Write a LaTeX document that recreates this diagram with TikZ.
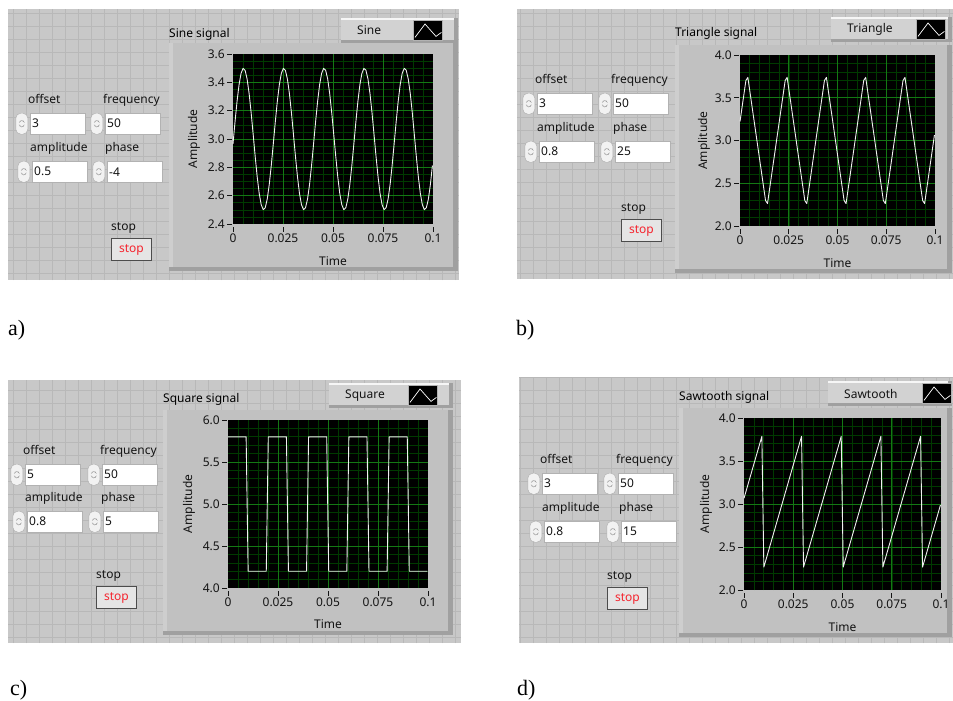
\documentclass[tikz,border=0pt]{standalone}
\usepackage{fontspec}
\setmainfont{Noto Sans}
\newfontfamily\capfont{Liberation Serif}
\usetikzlibrary{positioning, calc}
\definecolor{panelgray}{RGB}{200,200,200}
\definecolor{panelline}{RGB}{184,184,184}
\definecolor{framegray}{RGB}{193,193,193}
\definecolor{framelight}{RGB}{206,206,206}
\definecolor{frameedge}{RGB}{160,160,160}
\definecolor{ringgray}{RGB}{210,210,210}
\definecolor{majorgrid}{RGB}{20,120,20}
\definecolor{minorgrid}{RGB}{0,58,0}
\definecolor{lvtext}{RGB}{20,20,20}
\definecolor{stopred}{RGB}{245,35,45}

\begin{document}
\begin{tikzpicture}[
    x=1pt, y=-1pt,
    declare function={
        tri(\p)=(\p<90)?(\p/90):((\p<270)?((180-\p)/90):((\p-360)/90));
        sqw(\p)=(\p<180)?1:-1;
        saw(\p)=(\p<180)?(\p/180):(\p/180-2);
    },
    lvfont/.style={font=\fontsize{12}{14}\selectfont, text=lvtext},
    field/.style={lvfont, draw=gray!60, fill=white, anchor=north west, minimum height=21pt, text width=51pt, inner xsep=2pt, inner ysep=0pt, align=left},
    spin/.style={draw=gray!65, fill=gray!10, rounded corners=5pt, minimum width=12pt, minimum height=21pt, inner sep=0pt,
        path picture={
            \draw[gray!75, line width=0.4pt] ([xshift=-1.5pt,yshift=3pt]path picture bounding box.center) -- ([yshift=6pt]path picture bounding box.center) -- ([xshift=1.5pt,yshift=3pt]path picture bounding box.center);
            \draw[gray!75, line width=0.4pt] ([xshift=-1.5pt,yshift=-3pt]path picture bounding box.center) -- ([yshift=-6pt]path picture bounding box.center) -- ([xshift=1.5pt,yshift=-3pt]path picture bounding box.center);
        }},
    ctllab/.style={lvfont, anchor=base west, inner sep=0pt},
    stopbtn/.style={lvfont, text=stopred, draw=black!70, line width=1pt, fill=gray!20, anchor=north west, minimum width=40pt, minimum height=22pt, inner sep=0pt},
    icon/.style={fill=black, draw=gray!60, anchor=north west, minimum width=29pt, minimum height=20pt, inner sep=0pt},
    mingrid/.style={draw=minorgrid, line width=0.6pt},
    majgrid/.style={draw=majorgrid, line width=0.7pt},
    wave/.style={draw=white!88!gray, line width=0.9pt, line join=round},
    tick/.style={draw=lvtext, line width=0.8pt},
    ticklab/.style={lvfont, inner sep=1pt},
    axlab/.style={lvfont, inner sep=0pt},
    caption/.style={font=\capfont\fontsize{22}{24}\selectfont, anchor=west, inner sep=0pt}
]
    \fill[white] (0,0) rectangle (953,701);
    \useasboundingbox (0,0) rectangle (953,701);

    % panel backgrounds
    \foreach \pn/\xa/\ya/\xb/\yb in {a/8/9/459/280, b/517/9/953/279, c/8/380/461/643, d/519/377/953/643} {
        \fill[panelgray] (\xa,\ya) rectangle (\xb,\yb);
        \draw[panelline, step=13pt] (\xa,\ya) grid (\xb,\yb);
    }

    % graph frames and titles
    \foreach \pn/\xa/\ya/\xb/\yb/\ty/\sig in {a/169/43/458/271/34/Sine, b/675/45/952/273/33/Triangle, c/163/410/453/635/399/Square, d/679/408/952/637/397/Sawtooth} {
        \fill[framegray] (\xa,\ya) rectangle (\xb,\yb);
        \fill[framelight] (\xa,\ya) rectangle (\xa+4,\yb);
        \fill[frameedge] (\xb-5,\ya) rectangle (\xb,\yb);
        \fill[frameedge] (\xa,\yb-4) rectangle (\xb,\yb);
        \node[lvfont, text=black, anchor=west, inner sep=0pt] (\pn-title) at (\xa,\ty) {\sig{} signal};
    }

    % waveform selectors
    \foreach \pn/\xa/\ya/\xb/\yb/\ix/\sig in {a/341/18/458/43/413/Sine, b/831/17/952/42/916/Triangle, c/329/383/453/408/408/Square, d/828/381/952/406/922/Sawtooth} {
        \fill[ringgray] (\xa,\ya) rectangle (\xb,\yb);
        \fill[white!80!ringgray] (\xa,\ya) rectangle (\xb,\ya+2);
        \fill[frameedge] (\xb-4,\ya) rectangle (\xb,\yb);
        \fill[frameedge] (\xa,\yb-3) rectangle (\xb,\yb);
        \node[lvfont, anchor=west, inner sep=0pt] (\pn-ring) at (\xa+16,{(\ya+\yb)/2}) {\sig};
        \node[icon] (\pn-icon) at (\ix,\ya+2) {};
        \draw[white, line width=0.7pt] ($(\pn-icon.south west)+(2pt,3pt)$) -- ($(\pn-icon.north west)+(12pt,-4pt)$)
            -- ($(\pn-icon.south west)+(23pt,4pt)$) -- ($(\pn-icon.south east)+(-1pt,8pt)$);
    }

    % a) sine
    \begin{scope}[shift={(233,224)}, x=2000pt, y=141.667pt]
        \fill[black] (0,0) rectangle (0.1,1.2);
        \foreach \i in {1,...,19} \draw[mingrid] (\i*0.005,0) -- (\i*0.005,1.2);
        \foreach \j in {1,...,23} \draw[mingrid] (0,\j*0.05) -- (0.1,\j*0.05);
        \foreach \i in {1,2,3} \draw[majgrid] (\i*0.025,0) -- (\i*0.025,1.2);
        \foreach \j in {1,...,5} \draw[majgrid] (0,\j*0.2) -- (0.1,\j*0.2);
        \draw[wave] plot[samples at={0,...,99}, variable=\n] ({\n*0.001}, {0.6+0.5*sin(18*\n-4)});
        \foreach \j/\lab in {0/2.4, 1/2.6, 2/2.8, 3/3.0, 4/3.2, 5/3.4, 6/3.6} {
            \draw[tick] (0,\j*0.2) ++(-1pt,0pt) -- ++(-5pt,0pt);
            \node[ticklab, left=7pt] at (0,\j*0.2) {\lab};
        }
        \foreach \t in {0,0.025,0.05,0.075,0.1} {
            \draw[tick] (\t,0) ++(0pt,-3pt) -- ++(0pt,-5pt);
            \node[ticklab, below=9pt] at (\t,0) {\t};
        }
        \node[axlab, rotate=90] (a-amp) at ($(0,0.6)+(-39pt,0pt)$) {Amplitude};
        \node[axlab] (a-time) at ($(0.05,0)+(0pt,-37pt)$) {Time};
    \end{scope}

    % b) triangle
    \begin{scope}[shift={(740,226)}, x=1950pt, y=85.5pt]
        \fill[black] (0,0) rectangle (0.1,2);
        \foreach \i in {1,...,19} \draw[mingrid] (\i*0.005,0) -- (\i*0.005,2);
        \foreach \j in {1,...,19} \draw[mingrid] (0,\j*0.1) -- (0.1,\j*0.1);
        \foreach \i in {1,2,3} \draw[majgrid] (\i*0.025,0) -- (\i*0.025,2);
        \foreach \j in {1,2,3} \draw[majgrid] (0,\j*0.5) -- (0.1,\j*0.5);
        \draw[wave] plot[samples at={0,...,99}, variable=\n] ({\n*0.001}, {1+0.8*tri(mod(25+18*\n,360))});
        \foreach \j/\lab in {0/2.0, 1/2.5, 2/3.0, 3/3.5, 4/4.0} {
            \draw[tick] (0,\j*0.5) ++(-1pt,0pt) -- ++(-5pt,0pt);
            \node[ticklab, left=7pt] at (0,\j*0.5) {\lab};
        }
        \foreach \t in {0,0.025,0.05,0.075,0.1} {
            \draw[tick] (\t,0) ++(0pt,-3pt) -- ++(0pt,-5pt);
            \node[ticklab, below=9pt] at (\t,0) {\t};
        }
        \node[axlab, rotate=90] (b-amp) at ($(0,1)+(-36pt,0pt)$) {Amplitude};
        \node[axlab] (b-time) at ($(0.05,0)+(0pt,-37pt)$) {Time};
    \end{scope}

    % c) square
    \begin{scope}[shift={(228,588)}, x=2000pt, y=84pt]
        \fill[black] (0,0) rectangle (0.1,2);
        \foreach \i in {1,...,19} \draw[mingrid] (\i*0.005,0) -- (\i*0.005,2);
        \foreach \j in {1,...,19} \draw[mingrid] (0,\j*0.1) -- (0.1,\j*0.1);
        \foreach \i in {1,2,3} \draw[majgrid] (\i*0.025,0) -- (\i*0.025,2);
        \foreach \j in {1,2,3} \draw[majgrid] (0,\j*0.5) -- (0.1,\j*0.5);
        \draw[wave] plot[samples at={0,...,99}, variable=\n] ({\n*0.001}, {1+0.8*sqw(mod(5+18*\n,360))});
        \foreach \j/\lab in {0/4.0, 1/4.5, 2/5.0, 3/5.5, 4/6.0} {
            \draw[tick] (0,\j*0.5) ++(-1pt,0pt) -- ++(-5pt,0pt);
            \node[ticklab, left=7pt] at (0,\j*0.5) {\lab};
        }
        \foreach \t in {0,0.025,0.05,0.075,0.1} {
            \draw[tick] (\t,0) ++(0pt,-3pt) -- ++(0pt,-5pt);
            \node[ticklab, below=9pt] at (\t,0) {\t};
        }
        \node[axlab, rotate=90] (c-amp) at ($(0,1)+(-39pt,0pt)$) {Amplitude};
        \node[axlab] (c-time) at ($(0.05,0)+(0pt,-36pt)$) {Time};
    \end{scope}

    % d) sawtooth
    \begin{scope}[shift={(744,590)}, x=1970pt, y=86pt]
        \fill[black] (0,0) rectangle (0.1,2);
        \foreach \i in {1,...,19} \draw[mingrid] (\i*0.005,0) -- (\i*0.005,2);
        \foreach \j in {1,...,19} \draw[mingrid] (0,\j*0.1) -- (0.1,\j*0.1);
        \foreach \i in {1,2,3} \draw[majgrid] (\i*0.025,0) -- (\i*0.025,2);
        \foreach \j in {1,2,3} \draw[majgrid] (0,\j*0.5) -- (0.1,\j*0.5);
        \draw[wave] plot[samples at={0,...,99}, variable=\n] ({\n*0.001}, {1+0.8*saw(mod(15+18*\n,360))});
        \foreach \j/\lab in {0/2.0, 1/2.5, 2/3.0, 3/3.5, 4/4.0} {
            \draw[tick] (0,\j*0.5) ++(-1pt,0pt) -- ++(-5pt,0pt);
            \node[ticklab, left=7pt] at (0,\j*0.5) {\lab};
        }
        \foreach \t in {0,0.025,0.05,0.075,0.1} {
            \draw[tick] (\t,0) ++(0pt,-3pt) -- ++(0pt,-5pt);
            \node[ticklab, below=9pt] at (\t,0) {\t};
        }
        \node[axlab, rotate=90] (d-amp) at ($(0,1)+(-38pt,0pt)$) {Amplitude};
        \node[axlab] (d-time) at ($(0.05,0)+(0pt,-37pt)$) {Time};
    \end{scope}

    % numeric controls
    \foreach \pn/\ctl/\val/\x/\y in {
        a/offset/3/30/113, a/frequency/50/105/113, a/amplitude/0.5/32/161, a/phase/-4/107/161,
        b/offset/3/537/93, b/frequency/50/613/93, b/amplitude/0.8/539/141, b/phase/25/615/141,
        c/offset/5/25/464, c/frequency/50/102/464, c/amplitude/0.8/27/511, c/phase/5/103/511,
        d/offset/3/542/473, d/frequency/50/618/473, d/amplitude/0.8/544/521, d/phase/15/621/521} {
        \node[field] (\pn-\ctl) at (\x,\y) {\val};
        \node[spin, left=2pt of \pn-\ctl] (\pn-\ctl-spin) {};
        \node[ctllab] (\pn-\ctl-lab) at ([xshift=-2pt,yshift=10pt]\pn-\ctl.north west) {\ctl};
    }

    % stop buttons
    \foreach \pn/\x/\y in {a/111/238, b/621/219, c/96/586, d/607/587} {
        \node[stopbtn] (\pn-stop) at (\x,\y) {stop};
        \node[ctllab] (\pn-stop-lab) at ([yshift=8pt]\pn-stop.north west) {stop};
    }

    % captions
    \node[caption] (cap-a) at (8,330) {a)};
    \node[caption] (cap-b) at (516,330) {b)};
    \node[caption] (cap-c) at (10,690) {c)};
    \node[caption] (cap-d) at (517,690) {d)};
\end{tikzpicture}
\end{document}
